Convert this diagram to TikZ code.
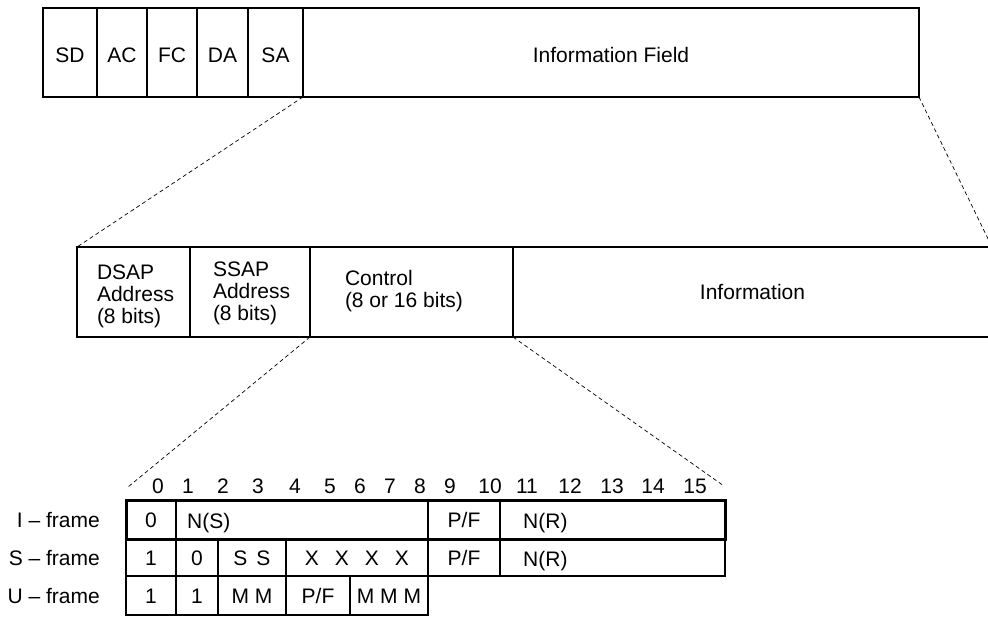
\documentclass[tikz,border=0pt]{standalone}
\usepackage{fontspec}
\setmainfont{Liberation Sans}

\tikzset{
  cell/.style 2 args={draw, line width=1.6pt, anchor=north west, inner sep=0pt, outer sep=0pt,
    minimum width=#1, minimum height=#2},
  low/.style={text height=#1, text depth=0pt},
  low/.default=20pt,
  txt/.style={inner sep=0pt, outer sep=0pt, align=left, anchor=north west},
  zoomline/.style={line width=0.7pt, dash pattern=on 4pt off 3pt},
  rowedge/.style={line width=3pt},
}

\begin{document}
\begin{tikzpicture}[x=1pt, y=-1pt, every node/.style={font=\fontsize{21}{22}\selectfont}]
    \clip (0,0) rectangle (988,617);
    % Token ring frame
    \node[cell={54pt}{89pt}, low] (sd) at (43,8) {SD};
    \node[cell={50pt}{89pt}, low] (ac) at (97,8) {AC};
    \node[cell={50pt}{89pt}, low] (fc) at (147,8) {FC};
    \node[cell={51pt}{89pt}, low] (da) at (197,8) {DA};
    \node[cell={55pt}{89pt}, low] (sa) at (248,8) {SA};
    \node[cell={616pt}{89pt}, low] (infofield) at (303,8) {Information Field};
    % LLC frame (runs off the right side)
    \node[cell={113pt}{90pt}] (dsap) at (77,247) {};
    \node[cell={120pt}{90pt}] (ssap) at (190,247) {};
    \node[cell={203pt}{90pt}] (control) at (310,247) {};
    \node[cell={479pt}{90pt}] (info) at (513,247) {Information};
    \node[txt] (dsaptxt) at (97,265) {DSAP\\Address\\(8 bits)};
    \node[txt] (ssaptxt) at (213,262) {SSAP\\Address\\(8 bits)};
    \node[txt] (controltxt) at (345,270) {Control\\(8 or 16 bits)};
    % Zoom lines
    \coordinate (bitleft) at (128,487);
    \coordinate (bitright) at (724,486);
    \draw[zoomline] (sa.south east) -- (dsap.north west);
    \draw[zoomline] (infofield.south east) -- (info.north east);
    \draw[zoomline] (ssap.south east) -- (bitleft);
    \draw[zoomline] (control.south east) -- (bitright);
    % Bit numbers
    \foreach \b/\x in {0/158,1/188,2/223,3/258,4/295,5/330,6/360,7/390,8/420,
                       9/450,10/490,11/527,12/570,13/612,14/653,15/695}
        \node[inner sep=0pt] (bit\b) at (\x,486) {\b};
    % I-frame
    \node[cell={50pt}{39pt}, low=16pt] (i0) at (126,500) {0};
    \node[cell={252pt}{39pt}] (ins) at (176,500) {};
    \node[cell={72pt}{39pt}, low=16pt] (ipf) at (428,500) {P/F};
    \node[cell={225pt}{39pt}] (inr) at (500,500) {};
    \draw[rowedge] (i0.north west) rectangle (inr.south east);
    \node[low=18pt, anchor=west, inner sep=0pt] (instxt) at ([xshift=11pt]ins.west) {N(S)};
    \node[low=18pt, anchor=west, inner sep=0pt] (inrtxt) at ([xshift=23pt]inr.west) {N(R)};
    % S-frame
    \node[cell={50pt}{37pt}, low=16pt] (s0) at (126,539) {1};
    \node[cell={42pt}{37pt}, low=16pt] (s1) at (176,539) {0};
    \node[cell={68pt}{37pt}, low=16pt] (sss) at (218,539) {S\hspace{9pt}S};
    \node[cell={142pt}{37pt}, low=16pt] (sx) at (286,539) {X\hspace{16pt}X\hspace{16pt}X\hspace{16pt}X};
    \node[cell={72pt}{37pt}, low=16pt] (spf) at (428,539) {P/F};
    \node[cell={225pt}{37pt}] (snr) at (500,539) {};
    \node[low=18pt, anchor=west, inner sep=0pt] (snrtxt) at ([xshift=23pt]snr.west) {N(R)};
    % U-frame
    \node[cell={50pt}{39pt}, low=16pt] (u0) at (126,576) {1};
    \node[cell={42pt}{39pt}, low=16pt] (u1) at (176,576) {1};
    \node[cell={68pt}{39pt}, low=16pt] (umm) at (218,576) {M M};
    \node[cell={64pt}{39pt}, low=16pt] (upf) at (286,576) {P/F};
    \node[cell={78pt}{39pt}, low=16pt] (ummm) at (350,576) {M M M};
    % Row labels
    \node[low=16pt, anchor=east, inner sep=0pt] (ilbl) at (100,519.5) {I – frame};
    \node[low=16pt, anchor=east, inner sep=0pt] (slbl) at (100,557.5) {S – frame};
    \node[low=16pt, anchor=east, inner sep=0pt] (ulbl) at (100,595.5) {U – frame};
\end{tikzpicture}
\end{document}
